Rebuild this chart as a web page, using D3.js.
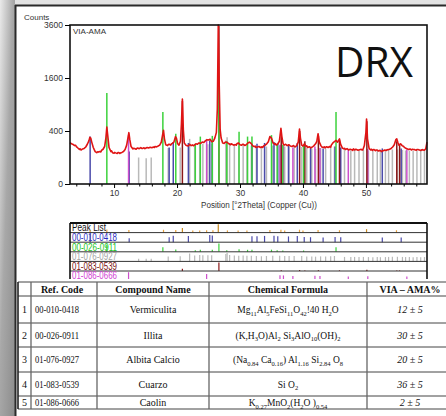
<!DOCTYPE html>
<html>
<head>
<meta charset="utf-8">
<script src="https://cdn.jsdelivr.net/npm/d3@7"></script>
<style>
body { margin: 0; background: #fff; }
svg { display: block; font-family: "Liberation Sans", Arial, sans-serif; }
</style>
</head>
<body>
<svg id="chart" width="446" height="416"></svg>
<script>
// measured pattern VIA-AMA, [2theta, counts]
const pattern = [
  [3.00,245],[3.15,236],[3.25,230],[3.40,226],[3.50,222],[3.75,210],[3.90,214],[4.00,200],[4.15,192],[4.25,185],[4.50,170],[4.60,176],[4.75,165],[4.90,171],[5.00,175],[5.25,180],
  [5.50,195],[5.75,225],[6.00,265],[6.15,310],[6.30,300],[6.45,250],[6.70,190],[6.85,168],[7.00,150],[7.25,140],[7.40,148],[7.50,145],
  [7.75,150],[7.90,146],[8.00,160],[8.25,172],[8.50,200],[8.70,300],[8.85,460],[9.00,330],[9.20,190],[9.50,150],[9.60,156],[9.75,140],
  [10.00,135],[10.10,142],[10.25,138],[10.50,132],[10.60,140],[10.75,140],[10.90,133],[11.00,136],[11.25,142],[11.50,150],[11.75,170],[12.00,215],[12.20,300],
  [12.35,375],[12.50,280],[12.70,200],[13.00,175],[13.10,182],[13.25,180],[13.50,172],[13.60,180],[13.75,185],[14.00,178],[14.25,188],[14.40,181],[14.50,180],
  [14.75,186],[14.90,178],[15.00,182],[15.25,190],[15.50,184],[15.60,190],[15.75,192],[16.00,188],[16.25,195],[16.40,190],[16.50,200],[16.75,196],[17.00,205],
  [17.25,215],[17.50,250],[17.70,340],[17.85,410],[18.00,290],[18.20,220],[18.50,210],[18.60,222],[18.75,225],[19.00,215],[19.10,228],[19.25,235],
  [19.50,250],[19.75,320],[19.90,300],[20.10,230],[20.30,215],[20.55,260],[20.70,520],[20.85,1030],[21.00,420],[21.15,240],
  [21.40,215],[21.75,205],[21.90,214],[22.00,225],[22.25,210],[22.50,218],[22.60,208],[22.75,215],[23.00,230],[23.25,225],[23.40,236],[23.50,240],[23.75,235],
  [24.00,250],[24.25,245],[24.40,258],[24.50,265],[24.75,280],[25.00,275],[25.25,285],[25.50,255],[25.75,260],[26.00,300],[26.25,380],
  [26.40,800],[26.55,3600],[26.70,1400],[26.85,420],[27.00,300],[27.25,240],[27.50,235],[27.60,246],[27.75,250],[28.00,245],[28.25,230],
  [28.50,220],[28.60,230],[28.75,225],[29.00,215],[29.25,222],[29.40,214],[29.50,230],[29.75,240],[30.00,220],[30.25,215],[30.40,224],[30.50,225],[30.75,212],
  [31.00,220],[31.25,240],[31.50,250],[31.75,235],[32.00,210],[32.25,198],[32.40,205],[32.50,190],[32.75,195],[33.00,200],[33.25,190],
  [33.50,198],[33.60,190],[33.75,205],[34.00,215],[34.25,230],[34.50,255],[34.75,320],[35.00,300],[35.25,240],[35.50,225],[35.60,232],[35.75,215],
  [36.00,228],[36.25,260],[36.50,440],[36.65,320],[36.85,230],[37.00,215],[37.25,225],[37.40,216],[37.50,210],[37.75,220],[38.00,205],
  [38.25,200],[38.40,208],[38.50,210],[38.75,195],[39.00,210],[39.25,250],[39.45,430],[39.60,300],[39.80,215],[40.00,205],[40.25,230],
  [40.50,200],[40.60,207],[40.75,190],[41.00,198],[41.25,185],[41.40,193],[41.50,195],[41.75,210],[42.00,230],[42.20,260],[42.40,360],[42.60,250],
  [42.85,210],[43.00,195],[43.25,190],[43.40,197],[43.50,185],[43.75,198],[44.00,190],[44.25,200],[44.40,193],[44.50,215],[44.75,240],[45.00,255],
  [45.25,270],[45.50,250],[45.80,290],[46.00,220],[46.25,185],[46.50,175],[46.60,182],[46.75,170],[47.00,178],[47.25,165],[47.50,172],
  [47.75,168],[47.90,160],[48.00,175],[48.25,165],[48.40,172],[48.50,170],[48.75,162],[49.00,168],[49.25,172],[49.40,164],[49.50,165],[49.75,210],[50.00,380],
  [50.10,600],[50.25,290],[50.50,180],[50.75,165],[50.90,172],[51.00,160],[51.25,170],[51.50,158],[51.60,165],[51.75,165],[52.00,155],[52.25,162],
  [52.50,150],[52.60,158],[52.75,158],[53.00,165],[53.25,160],[53.40,167],[53.50,168],[53.75,172],[54.00,180],[54.25,195],[54.50,220],[54.75,280],
  [54.90,290],[55.10,240],[55.25,215],[55.50,230],[55.75,210],[56.00,200],[56.10,192],[56.25,185],[56.50,178],[56.75,170],[57.00,175],
  [57.25,165],[57.40,172],[57.50,170],[57.75,168],[58.00,162],[58.10,170],[58.25,170],[58.50,165],[58.75,160],[58.90,167],[59.00,168],[59.25,162],[59.50,175],
  [59.70,250]
];

// observed peak list [2theta, counts]
const peakList = [
  [6.2,310],[8.85,460],[12.35,375],[17.85,410],[19.8,320],[20.85,1030],[22.5,225],[23.6,240],[24.7,280],[25.7,260],
  [26.55,3600],[28.0,245],[29.7,240],[31.1,240],[34.75,320],[36.5,440],[37.1,225],[39.45,430],[40.0,205],[42.4,360],
  [45.8,290],[50.1,600],[54.85,290]
];

// reference patterns [2theta, stick height in counts]
const vermiculita = [
  [6.2,320],[12.4,150],[18.75,190],[19.4,250],[21.8,240],[25.2,270],[25.6,260],[31.9,230],[32.7,230],[33.9,240],
  [35.4,250],[36.0,230],[37.7,220],[39.1,240],[40.2,200],[41.2,190],[43.2,180],[45.1,200],[46.0,190],[52.6,180],[55.6,180]
];
const illita = [
  [8.85,1180],[17.75,740],[19.8,360],[22.9,230],[23.7,320],[25.6,330],[26.65,1340],[27.9,260],[29.85,390],[31.2,320],
  [31.9,320],[35.0,340],[35.9,230],[36.8,220],[40.1,210],[45.25,740]
];
const albita = [
  [13.9,100],[15.1,95],[15.9,100],[18.6,185],[20.5,190],[22.0,290],[22.8,220],[23.6,240],[24.1,230],[24.9,225],
  [25.5,230],[27.75,270],[27.95,310],[28.35,240],[29.1,215],[29.8,210],[30.5,215],[31.1,210],[31.8,210],[32.6,200],
  [33.4,190],[34.2,200],[35.2,210],[36.3,210],[37.1,200],[37.8,195],[38.6,200],[39.8,195],[40.6,185],[41.4,180],
  [42.0,175],[42.8,185],[43.6,180],[44.4,190],[45.0,200],[46.6,165],[47.6,160],[48.2,165],[48.9,160],[49.6,165],
  [50.4,160],[51.1,155],[51.8,160],[52.3,155],[53.1,160],[53.6,165],[54.2,170],[55.0,170],[55.8,165],[56.3,160],
  [56.9,160],[57.5,155],[58.1,160],[58.7,155],[59.3,160]
];
const cuarzo = [
  [20.85,980],[26.65,3550],[36.55,360],[39.47,400],[40.3,260],[42.45,330],[45.8,270],[50.15,560],[54.9,260],[55.35,220]
];
const caolin = [
  [12.3,340],[24.7,270],[36.35,220],[36.9,210],[38.4,190],[41.9,200],[42.7,185],[47.2,170],[50.3,175],[56.5,170]
];

const yTicks = [0, 400, 1600, 3600];
const xTicks = [10, 20, 30, 40, 50];

// table
const rowNumbers = ["1", "2", "3", "4", "5"];
const refCodes = ["00-010-0418", "00-026-0911", "01-076-0927", "01-083-0539", "01-086-0666"];
const compoundNames = ["Vermiculita", "Illita", "Albita Calcio", "Cuarzo", "Caolin"];
const amaValues = ["12 \u00b1 5", "30 \u00b1 5", "20 \u00b1 5", "36 \u00b1 5", "2 \u00b1 5"];
const headers = ["", "Ref. Code", "Compound Name", "Chemical Formula", "VIA \u2013 AMA%"];
// formula pieces: [text, subscript?]
const formulas = [
  [["Mg",0],["11",1],["Al",0],["5",1],["FeSi",0],["11",1],["O",0],["42",1],["!40 H",0],["2",1],["O",0]],
  [["(K,H",0],["3",1],["O)Al",0],["2",1],[" Si",0],["3",1],["AlO",0],["10",1],["(OH)",0],["2",1]],
  [["(Na",0],["0.84",1],[" Ca",0],["0.16",1],[") Al",0],["1.16",1],[" Si",0],["2.84",1],[" O",0],["8",1]],
  [["Si O",0],["2",1]],
  [["K",0],["0.27",1],["MnO",0],["2",1],["(H",0],["2",1],["O )",0],["0.54",1]]
];

const phases = [
  { code: refCodes[2], peaks: albita, color: "#b9b9b9", label: "#a3a3a3" },
  { code: refCodes[0], peaks: vermiculita, color: "#4a4aaa", label: "#2b2bc2" },
  { code: refCodes[4], peaks: caolin, color: "#cc4fcc", label: "#d23ed2" },
  { code: refCodes[3], peaks: cuarzo, color: "#8a1818", label: "#7a1212" },
  { code: refCodes[1], peaks: illita, color: "#3cd23c", label: "#22c422" }
];

const svg = d3.select("#chart");

// slide background
const defs = svg.append("defs");
const grad = defs.append("linearGradient").attr("id", "side")
  .attr("x1", 0).attr("y1", 0).attr("x2", 1).attr("y2", 1);
grad.append("stop").attr("offset", "0%").attr("stop-color", "#eaeaea");
grad.append("stop").attr("offset", "45%").attr("stop-color", "#a8a8a8");
grad.append("stop").attr("offset", "100%").attr("stop-color", "#8c8c8c");
svg.append("rect").attr("x", 0).attr("y", 0).attr("width", 15).attr("height", 416).attr("fill", "url(#side)");
svg.append("rect").attr("x", 15).attr("y", 0).attr("width", 431).attr("height", 5).attr("fill", "#e3e3e3");
svg.append("line").attr("x1", 15).attr("x2", 446).attr("y1", 5.5).attr("y2", 5.5)
  .attr("stroke", "#2a2a2a").attr("stroke-width", 2);
svg.append("line").attr("x1", 15.5).attr("x2", 15.5).attr("y1", 5).attr("y2", 416)
  .attr("stroke", "#2a2a2a").attr("stroke-width", 2);

// main chart
const x = d3.scaleLinear().domain([3, 59.7]).range([70, 427]);
const y = d3.scaleSqrt().domain([0, 3600]).range([184, 25]);

const plot = svg.append("g");

phases.forEach(p => {
  plot.append("g").selectAll("line")
    .data(p.peaks)
    .join("line")
      .attr("x1", d => x(d[0])).attr("x2", d => x(d[0]))
      .attr("y1", y(0)).attr("y2", d => y(d[1]))
      .attr("stroke", p.color).attr("stroke-width", 1.5);
});

const line = d3.line().x(d => x(d[0])).y(d => y(d[1]));
plot.append("path").datum(pattern)
  .attr("d", line).attr("fill", "none")
  .attr("stroke", "#e01414").attr("stroke-width", 1.6).attr("stroke-linejoin", "round");

plot.append("rect").attr("x", 70).attr("y", 25).attr("width", 357).attr("height", 159)
  .attr("fill", "none").attr("stroke", "#111").attr("stroke-width", 1.6);

const yAxis = svg.append("g").attr("transform", "translate(70,0)")
  .call(d3.axisLeft(y).tickValues(yTicks).tickFormat(d3.format("d")).tickSize(5).tickPadding(2));
yAxis.select(".domain").remove();
yAxis.selectAll("text").attr("font-size", 8.5).attr("fill", "#333").attr("font-family", "Liberation Sans");

const xAxis = svg.append("g").attr("transform", "translate(0,184)")
  .call(d3.axisBottom(x).tickValues(xTicks).tickSize(4).tickPadding(2));
xAxis.select(".domain").remove();
xAxis.selectAll("text").attr("font-size", 8.5).attr("fill", "#333").attr("font-family", "Liberation Sans");

const xMinor = svg.append("g").attr("transform", "translate(0,184)")
  .call(d3.axisBottom(x).tickValues(d3.range(4, 60, 2).filter(v => v % 10)).tickSize(2.5).tickFormat(""));
xMinor.select(".domain").remove();

svg.append("text").attr("x", 24).attr("y", 19.5).attr("font-size", 8).attr("fill", "#333").text("Counts");
svg.append("text").attr("x", 73).attr("y", 34).attr("font-size", 8).attr("fill", "#333")
  .attr("textLength", 33).attr("lengthAdjust", "spacingAndGlyphs").text("VIA-AMA");
svg.append("text").attr("x", 335).attr("y", 77).attr("font-size", 42)
  .attr("font-family", "'Open Sans', sans-serif").attr("fill", "#111")
  .attr("textLength", 78).attr("lengthAdjust", "spacingAndGlyphs").text("DRX");
svg.append("text").attr("x", 259).attr("y", 208).attr("text-anchor", "middle")
  .attr("font-size", 8.5).attr("fill", "#333")
  .attr("textLength", 116).attr("lengthAdjust", "spacingAndGlyphs")
  .text("Position [\u00b02Theta] (Copper (Cu))");

// peak list panel
const rowH = 9.6;
const listTop = 223;
const rows = [{ code: "Peak List", peaks: peakList, color: "#e8a13c", label: "#111", sqrt: true }]
  .concat([phases[1], phases[4], phases[0], phases[3], phases[2]]);

const panel = svg.append("g");
panel.append("rect").attr("x", 70).attr("y", listTop).attr("width", 357).attr("height", 70)
  .attr("fill", "#fff");

rows.forEach((r, i) => {
  const top = listTop + i * rowH;
  const bottom = top + rowH;
  panel.append("text").attr("x", 72).attr("y", top + 8.3)
    .attr("font-size", 10).attr("fill", r.label)
    .attr("textLength", i === 0 ? 34 : 45).attr("lengthAdjust", "spacingAndGlyphs")
    .text(r.code);
  const maxH = d3.max(r.peaks, d => d[1]);
  const h = (r.sqrt ? d3.scaleSqrt() : d3.scaleLinear()).domain([0, maxH]).range([0, rowH - 1.2]);
  panel.append("g").selectAll("line")
    .data(r.peaks)
    .join("line")
      .attr("x1", d => x(d[0])).attr("x2", d => x(d[0]))
      .attr("y1", bottom).attr("y2", d => bottom - h(d[1]))
      .attr("stroke", d => (r.sqrt && d[1] > 500) ? "#c98a20" : r.color)
      .attr("stroke-width", 1.2);
  panel.append("line").attr("x1", 70).attr("x2", 427).attr("y1", bottom).attr("y2", bottom)
    .attr("stroke", "#333").attr("stroke-width", 1);
});
panel.append("line").attr("x1", 70).attr("x2", 427).attr("y1", listTop).attr("y2", listTop)
  .attr("stroke", "#111").attr("stroke-width", 2);
panel.append("line").attr("x1", 70).attr("x2", 70).attr("y1", listTop).attr("y2", 290)
  .attr("stroke", "#111").attr("stroke-width", 1.6);
panel.append("line").attr("x1", 427).attr("x2", 427).attr("y1", listTop).attr("y2", 290)
  .attr("stroke", "#111").attr("stroke-width", 1.6);

// table
const table = svg.append("g").attr("font-family", "'Liberation Serif', 'Times New Roman', serif");
table.append("rect").attr("x", 17).attr("y", 279).attr("width", 429).attr("height", 137).attr("fill", "#fff");

const colX = [18, 31, 97, 209, 367];
const rowY = [282, 296, 323, 347, 372, 396, 409];
const centers = [24.5, 62, 153, 288, 410];

rowY.forEach(v => {
  table.append("line").attr("x1", 18).attr("x2", 446).attr("y1", v).attr("y2", v)
    .attr("stroke", "#444").attr("stroke-width", 1);
});
colX.forEach((v, i) => {
  table.append("line").attr("x1", v).attr("x2", v).attr("y1", rowY[0]).attr("y2", rowY[rowY.length - 1])
    .attr("stroke", i === 0 ? "#222" : "#666").attr("stroke-width", i === 0 ? 1.6 : 1.3);
});

headers.forEach((t, i) => {
  table.append("text").attr("x", centers[i]).attr("y", 293).attr("text-anchor", "middle")
    .attr("font-size", 10).attr("font-weight", "bold").attr("fill", "#111").text(t);
});

rowNumbers.forEach((n, i) => {
  const base = (rowY[i + 1] + rowY[i + 2]) / 2 + 3.5;
  table.append("text").attr("x", centers[0]).attr("y", base).attr("text-anchor", "middle")
    .attr("font-size", 10).attr("fill", "#111").text(n);
  table.append("text").attr("x", 35).attr("y", base)
    .attr("font-size", 10).attr("fill", "#111")
    .attr("textLength", 44).attr("lengthAdjust", "spacingAndGlyphs").text(refCodes[i]);
  table.append("text").attr("x", centers[2]).attr("y", base).attr("text-anchor", "middle")
    .attr("font-size", 10).attr("fill", "#111").text(compoundNames[i]);
  const f = table.append("text").attr("x", centers[3]).attr("y", base).attr("text-anchor", "middle")
    .attr("font-size", 9.5).attr("fill", "#111");
  let sub = false;
  formulas[i].forEach(([t, s]) => {
    const dy = s ? (sub ? 0 : 2.5) : (sub ? -2.5 : 0);
    f.append("tspan").attr("dy", dy).attr("font-size", s ? 6.5 : 9.5).text(t);
    sub = !!s;
  });
  table.append("text").attr("x", centers[4]).attr("y", base).attr("text-anchor", "middle")
    .attr("font-size", 10).attr("font-style", "italic").attr("fill", "#111").text(amaValues[i]);
});
</script>
</body>
</html>
